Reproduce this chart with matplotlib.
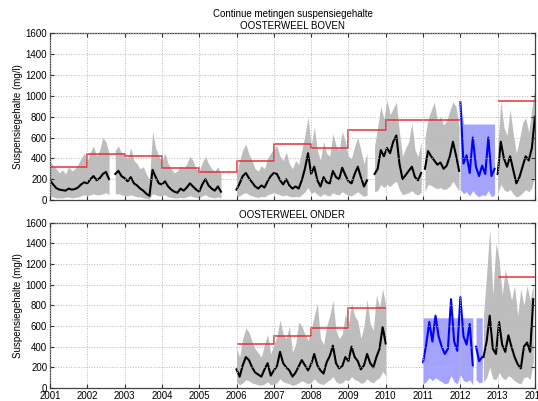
import numpy as np
import matplotlib
matplotlib.use('Agg')
import matplotlib.pyplot as plt

plt.rcParams['font.family'] = ['Liberation Sans', 'DejaVu Sans']
plt.rcParams['font.size'] = 7

# ---- OOSTERWEEL BOVEN: maandwaarden per meetperiode (gemiddelde, min, max) ----
boven1_start = 2001.0
boven1_gem = [190, 150, 115, 100, 95, 90, 110, 100, 105, 120, 150, 170, 160, 200, 230, 190, 210, 250, 270, 200]
boven1_min = [40, 30, 20, 20, 20, 25, 30, 20, 25, 30, 40, 50, 40, 50, 60, 50, 50, 60, 70, 50]
boven1_max = [380, 330, 300, 260, 290, 250, 320, 280, 300, 340, 400, 450, 380, 460, 520, 420, 480, 600, 560, 450]

boven2_start = 2002.75
boven2_gem = [250, 280, 230, 210, 180, 220, 160, 140, 110, 90, 60, 40, 290, 220, 160, 150, 180, 130, 100, 80,
              70, 110, 90, 120, 160, 130, 100, 80, 150, 200, 140, 110, 90, 130, 80]
boven2_min = [60, 60, 50, 40, 40, 50, 40, 30, 30, 20, 15, 10, 60, 50, 40, 40, 50, 30, 25, 20,
              20, 25, 20, 30, 40, 30, 25, 20, 40, 50, 30, 25, 20, 30, 20]
boven2_max = [480, 520, 450, 430, 400, 500, 380, 350, 300, 320, 250, 200, 660, 500, 420, 380, 450, 350, 300, 260,
              280, 330, 300, 350, 420, 380, 300, 280, 360, 420, 350, 300, 280, 320, 250]

boven3_start = 2006.0
boven3_gem = [100, 160, 230, 260, 210, 170, 130, 110, 140, 120, 180, 230, 260, 250, 190, 150, 200, 140, 110, 130,
              110, 190, 300, 450, 250, 320, 190, 130, 220, 170, 160, 280, 220, 200, 310, 240, 180, 160, 250, 320,
              220, 130, 190]
boven3_min = [30, 40, 60, 70, 50, 40, 30, 25, 35, 30, 50, 60, 70, 60, 50, 40, 50, 35, 30, 35,
              30, 50, 80, 120, 60, 80, 50, 35, 60, 45, 40, 70, 55, 50, 80, 60, 45, 40, 60, 80,
              55, 35, 50]
boven3_max = [250, 380, 480, 540, 440, 380, 300, 280, 330, 300, 400, 450, 500, 520, 420, 380, 460, 350, 300, 380,
              340, 480, 620, 800, 520, 700, 480, 380, 560, 450, 420, 640, 520, 480, 660, 560, 420, 400, 520, 600,
              480, 350, 450]

boven4_start = 2009.7
boven4_gem = [250, 300, 480, 420, 500, 450, 560, 620, 350, 200, 240, 280, 320, 220, 190, 260]
boven4_min = [80, 90, 150, 120, 150, 130, 160, 180, 100, 50, 60, 70, 90, 60, 50, 70]
boven4_max = [520, 700, 900, 780, 960, 820, 880, 940, 650, 420, 500, 560, 740, 480, 420, 560]

boven5_start = 2011.05
boven5_gem = [300, 470, 420, 380, 340, 360, 300, 330, 420, 560, 430, 280]
boven5_min = [80, 150, 140, 120, 110, 120, 100, 110, 130, 180, 130, 90]
boven5_max = [600, 780, 860, 940, 760, 800, 720, 760, 860, 940, 900, 700]

# blauw = andere meetreeks
boven_blauw_start = 2012.0
boven_blauw_gem = [940, 350, 430, 260, 600, 320, 230, 330, 250, 600, 230, 300]
boven_blauw_min = [100, 60, 80, 40, 90, 50, 30, 50, 40, 90, 30, 50]
boven_blauw_max = [950, 730, 730, 730, 730, 730, 730, 730, 730, 730, 730, 730]

boven6_start = 2013.0
boven6_gem = [250, 560, 400, 320, 420, 290, 160, 220, 320, 420, 380, 500, 800]
boven6_min = [60, 150, 100, 80, 100, 60, 30, 40, 70, 100, 80, 120, 250]
boven6_max = [500, 950, 700, 620, 870, 640, 450, 580, 740, 790, 650, 880, 1100]

# jaarlijkse rode lijn (boven)
boven_rood_randen = [2001, 2002, 2003, 2004, 2005, 2006, 2007, 2008, 2009, 2010, 2012]
boven_rood = [320, 440, 425, 305, 268, 372, 538, 499, 670, 768]
boven_rood2_randen = [2013, 2014]
boven_rood2 = [955]

# ---- OOSTERWEEL ONDER ----
onder1_start = 2006.0
onder1_gem = [180, 110, 220, 300, 270, 200, 150, 130, 110, 180, 240, 120,
              170, 210, 350, 240, 200, 170, 110, 150, 210, 270, 220, 170,
              230, 330, 220, 170, 140, 250, 310, 410, 240, 190, 210, 300,
              260, 400, 300, 260, 180, 220, 330, 240, 200, 300, 380, 590,
              430]
onder1_min = [60, 30, 50, 80, 70, 50, 40, 30, 25, 40, 60, 30,
              40, 50, 90, 60, 50, 40, 25, 35, 50, 70, 55, 40,
              55, 90, 55, 40, 35, 60, 80, 110, 60, 45, 50, 80,
              70, 110, 80, 70, 45, 55, 90, 60, 50, 80, 100, 160,
              120]
onder1_max = [380, 300, 480, 580, 540, 450, 380, 340, 300, 420, 520, 330,
              420, 500, 660, 520, 480, 600, 350, 420, 640, 600, 520, 460,
              560, 700, 820, 480, 420, 600, 700, 850, 560, 480, 520, 720,
              620, 820, 700, 650, 480, 600, 860, 620, 560, 900, 780, 960,
              800]

onder_blauw1_start = 2011.0
onder_blauw1_gem = [250, 420, 640, 450, 700, 500, 400, 330, 380, 860, 450, 360, 880, 500, 420, 620, 220]
onder_blauw1_min = [40, 60, 100, 70, 100, 80, 60, 40, 50, 120, 60, 40, 130, 70, 60, 80, 30]
onder_blauw1_max = [680, 680, 680, 680, 680, 680, 680, 680, 680, 680, 680, 680, 680, 680, 680, 680, 680]

onder_blauw2_start = 2012.42
onder_blauw2_gem = [400, 260, 300]
onder_blauw2_min = [80, 50, 60]
onder_blauw2_max = [680, 680, 680]

onder2_start = 2012.62
onder2_gem = [300, 450, 700, 380, 330, 640, 420, 350, 510, 400, 300, 230, 190, 400, 440, 350, 860]
onder2_min = [60, 100, 200, 90, 80, 150, 100, 80, 120, 100, 70, 50, 40, 100, 110, 80, 250]
onder2_max = [700, 1100, 1540, 900, 1400, 1250, 900, 1150, 1000, 850, 990, 700, 960, 800, 990, 850, 1000]

onder_rood_randen = [2006, 2007, 2008, 2009, 2010]
onder_rood = [425, 503, 578, 771]
onder_rood2_randen = [2013, 2014]
onder_rood2 = [1074]

jaren = list(range(2001, 2015))

GRIJS_BAND = '#bdbdbd'
BLAUW_BAND = '#a4a4ff'


def teken_reeks(ax, start, gem, mn, mx, blauw=False):
    t = start + np.arange(len(gem)) / 12.0
    if blauw:
        ax.fill_between(t, mn, mx, color=BLAUW_BAND, lw=0)
        ax.plot(t, gem, color='#0000ff', lw=1.5)
    else:
        ax.fill_between(t, mn, mx, color=GRIJS_BAND, lw=0)
        ax.plot(t, gem, color='black', lw=1.5)


def opmaak(ax, labels=True):
    ax.set_xlim(2001, 2014)
    ax.set_ylim(0, 1600)
    ax.set_xticks(jaren)
    ax.set_yticks(range(0, 1601, 200))
    if not labels:
        ax.set_xticklabels([])
    ax.tick_params(direction='in', top=True, right=True, length=3, width=0.8, pad=2, colors='#333333',
                   labelcolor='black')
    ax.grid(True, linestyle=':', color='#b8b8b8', lw=0.7)
    ax.set_axisbelow(False)
    for s in ax.spines.values():
        s.set_color('#444444')
        s.set_linewidth(0.9)
    ax.set_ylabel('Suspensiegehalte (mg/l)', labelpad=2)


fig = plt.figure(figsize=(5.38, 4.01), dpi=100)
ax1 = fig.add_axes([0.0929, 0.5012, 0.9015, 0.4153])
ax2 = fig.add_axes([0.0929, 0.0324, 0.9015, 0.4122])

# boven
teken_reeks(ax1, boven1_start, boven1_gem, boven1_min, boven1_max)
teken_reeks(ax1, boven2_start, boven2_gem, boven2_min, boven2_max)
teken_reeks(ax1, boven3_start, boven3_gem, boven3_min, boven3_max)
teken_reeks(ax1, boven4_start, boven4_gem, boven4_min, boven4_max)
teken_reeks(ax1, boven5_start, boven5_gem, boven5_min, boven5_max)
teken_reeks(ax1, boven_blauw_start, boven_blauw_gem, boven_blauw_min, boven_blauw_max, blauw=True)
teken_reeks(ax1, boven6_start, boven6_gem, boven6_min, boven6_max)
ax1.stairs(boven_rood, boven_rood_randen, color='#e8303a', lw=1.1, baseline=None)
ax1.stairs(boven_rood2, boven_rood2_randen, color='#e8303a', lw=1.1, baseline=None)
opmaak(ax1, labels=False)
ax1.set_title('Continue metingen suspensiegehalte\nOOSTERWEEL BOVEN', fontsize=7, pad=3.5, linespacing=1.25)

# onder
teken_reeks(ax2, onder1_start, onder1_gem, onder1_min, onder1_max)
teken_reeks(ax2, onder_blauw1_start, onder_blauw1_gem, onder_blauw1_min, onder_blauw1_max, blauw=True)
teken_reeks(ax2, onder_blauw2_start, onder_blauw2_gem, onder_blauw2_min, onder_blauw2_max, blauw=True)
teken_reeks(ax2, onder2_start, onder2_gem, onder2_min, onder2_max)
ax2.stairs(onder_rood, onder_rood_randen, color='#e8303a', lw=1.1, baseline=None)
ax2.stairs(onder_rood2, onder_rood2_randen, color='#e8303a', lw=1.1, baseline=None)
opmaak(ax2)
ax2.set_title('OOSTERWEEL ONDER', fontsize=7, pad=3.5)

fig.savefig('out.png', dpi=100)
